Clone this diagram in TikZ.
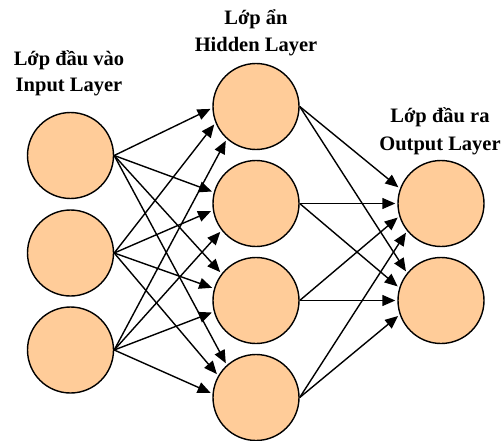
\documentclass[tikz,border=0pt]{standalone}
\usepackage{fontspec}
\setmainfont{Liberation Serif}
\usetikzlibrary{arrows.meta}
\definecolor{neuronfill}{HTML}{FFCC99}
\tikzset{
  neuron/.style={circle, draw=black, line width=1.4pt, fill=neuronfill, minimum size=86pt, inner sep=0pt},
  link/.style={line width=1.4pt, -{Triangle[length=13pt,width=11pt]}, shorten >=2pt},
  caption/.style={font=\bfseries\fontsize{20.5}{24}\selectfont, anchor=base, inner sep=0pt}
}
\begin{document}
\begin{tikzpicture}[x=1pt, y=-1pt]
  \useasboundingbox (0,0) rectangle (503,441);

  % layer captions
  \node[caption] (capinA) at (69,66) {Lớp đầu vào};
  \node[caption] (capinB) at (69,92) {Input Layer};
  \node[caption] (caphidA) at (256,25) {Lớp ẩn};
  \node[caption] (caphidB) at (256,52) {Hidden Layer};
  \node[caption] (capoutA) at (440,123) {Lớp đầu ra};
  \node[caption] (capoutB) at (440,150) {Output Layer};

  % input layer
  \node[neuron] (i1) at (70.5,155.5) {};
  \node[neuron] (i2) at (70.5,253) {};
  \node[neuron] (i3) at (70.5,350) {};

  % hidden layer
  \node[neuron] (h1) at (256,106.5) {};
  \node[neuron] (h2) at (256,203.5) {};
  \node[neuron] (h3) at (256,300.5) {};
  \node[neuron] (h4) at (256,397.5) {};

  % output layer
  \node[neuron] (o1) at (441,203.5) {};
  \node[neuron] (o2) at (441,300.5) {};

  % input -> hidden
  \draw[link] (i1.east) -- (h1.182);
  \draw[link] (i2.east) -- (h1.202);
  \draw[link] (i3.east) -- (h1.228);
  \draw[link] (i1.east) -- (h2.165);
  \draw[link] (i2.east) -- (h2.189);
  \draw[link] (i3.east) -- (h2.218);
  \draw[link] (i1.east) -- (h3.142);
  \draw[link] (i2.east) -- (h3.164);
  \draw[link] (i3.east) -- (h3.195);
  \draw[link] (i1.east) -- (h4.132);
  \draw[link] (i2.east) -- (h4.150);
  \draw[link] (i3.east) -- (h4.175);

  % hidden -> output
  \draw[link] (h1.east) -- (o1.160);
  \draw[link] (h2.east) -- (o1.180);
  \draw[link] (h3.east) -- (o1.197);
  \draw[link] (h4.east) -- (o1.219);
  \draw[link] (h1.east) -- (o2.141);
  \draw[link] (h2.east) -- (o2.163);
  \draw[link] (h3.east) -- (o2.180);
  \draw[link] (h4.east) -- (o2.199);
\end{tikzpicture}
\end{document}
